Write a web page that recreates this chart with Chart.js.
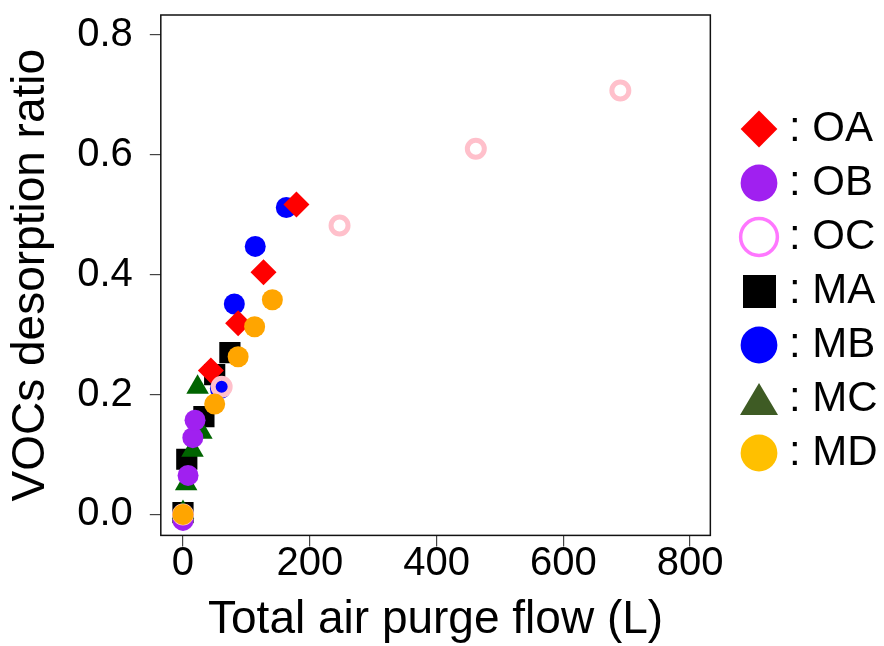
<!DOCTYPE html>
<html>
<head>
<meta charset="utf-8">
<script src="https://cdn.jsdelivr.net/npm/chart.js@4/dist/chart.umd.min.js"></script>
<style>
  html, body { margin: 0; padding: 0; background: #fff; }
  #wrap { width: 884px; height: 646px; }
</style>
</head>
<body>
<div id="wrap"><canvas id="myChart" width="884" height="646"></canvas></div>
<script>
// series: [total air purge flow (L), VOCs desorption ratio]
const seriesNames = ['OA', 'OB', 'OC', 'MA', 'MB', 'MC', 'MD'];
const oaData = [[44, 0.240], [87, 0.319], [127, 0.404], [179, 0.517]];
const obData = [[0, -0.010], [8, 0.065], [15.5, 0.128], [19, 0.157]];
const ocData = [[0, 0.000], [61, 0.213], [247, 0.482], [462, 0.610], [690, 0.707]];
const maData = [[0, 0.003], [6, 0.092], [33, 0.163], [50, 0.233], [74, 0.270]];
const mbData = [[59, 0.210], [81, 0.351], [114, 0.447], [163, 0.512]];
const mcData = [[0, 0.003], [5, 0.051], [15, 0.107], [29, 0.137], [23, 0.212]];
const mdData = [[0, 0.000], [50, 0.184], [87, 0.263], [113, 0.313], [141, 0.358]];
const xTicks = [0, 200, 400, 600, 800];
const yTicks = [0.0, 0.2, 0.4, 0.6, 0.8];

const FONT = "'Liberation Sans', Arial, sans-serif";

function pts(arr) {
    return arr.map(function(p) { return {x: p[0], y: p[1]}; });
}

// bigger legend symbols for square and triangle
function squareIcon(size, color) {
    const c = document.createElement('canvas');
    c.width = size; c.height = size;
    const g = c.getContext('2d');
    g.fillStyle = color;
    g.fillRect(0, 0, size, size);
    return c;
}
function triangleIcon(w, h, color) {
    const c = document.createElement('canvas');
    c.width = w; c.height = h;
    const g = c.getContext('2d');
    g.fillStyle = color;
    g.beginPath();
    g.moveTo(w / 2, 0);
    g.lineTo(w, h);
    g.lineTo(0, h);
    g.closePath();
    g.fill();
    return c;
}

// draw order: lower "order" ends up on top
const datasets = [
    {label: 'OA', data: pts(oaData), pointStyle: 'rectRot', pointRadius: 13,
     backgroundColor: '#FF0000', borderColor: '#FF0000', borderWidth: 0, order: 2,
     legendFill: '#FF0000', legendStroke: '#FF0000'},
    {label: 'OB', data: pts(obData), pointStyle: 'circle', pointRadius: 10.5,
     backgroundColor: '#A020F0', borderColor: '#A020F0', borderWidth: 0, order: 4,
     legendFill: '#A020F0', legendStroke: '#A020F0'},
    {label: 'OC', data: pts(ocData), pointStyle: 'circle', pointRadius: 8.5,
     backgroundColor: 'rgba(0,0,0,0)', borderColor: '#FFC0CB', borderWidth: 5, order: 1,
     legendFill: 'rgba(0,0,0,0)', legendStroke: '#FF77FF'},
    {label: 'MA', data: pts(maData), pointStyle: 'rect', pointRadius: 15,
     backgroundColor: '#000000', borderColor: '#000000', borderWidth: 0, order: 6,
     legendFill: '#000000', legendStroke: '#000000', legendIcon: squareIcon(33, '#000000')},
    {label: 'MB', data: pts(mbData), pointStyle: 'circle', pointRadius: 10.5,
     backgroundColor: '#0000FF', borderColor: '#0000FF', borderWidth: 0, order: 3,
     legendFill: '#0000FF', legendStroke: '#0000FF'},
    {label: 'MC', data: pts(mcData), pointStyle: 'triangle', pointRadius: 13,
     backgroundColor: '#006400', borderColor: '#006400', borderWidth: 0, order: 5,
     legendFill: '#3E5B24', legendStroke: '#3E5B24', legendIcon: triangleIcon(38, 32, '#3E5B24')},
    {label: 'MD', data: pts(mdData), pointStyle: 'circle', pointRadius: 10.5,
     backgroundColor: '#FFA500', borderColor: '#FFA500', borderWidth: 0, order: 0,
     legendFill: '#FFC000', legendStroke: '#FFC000'}
];

const frame = {
    id: 'frame',
    afterLayout(chart) {
        // park the legend where the original has it
        const lg = chart.legend;
        lg.left = 738; lg.right = 884;
        lg.top = 96; lg.bottom = 646;
    },
    beforeDatasetsDraw(chart) {
        const a = chart.chartArea, ctx = chart.ctx;
        ctx.save();
        ctx.strokeStyle = '#111';
        ctx.lineWidth = 1.5;
        ctx.strokeRect(a.left, a.top, a.right - a.left, a.bottom - a.top);
        ctx.restore();
    }
};

const config = {
    type: 'scatter',
    data: {datasets: datasets},
    options: {
        responsive: false,
        animation: false,
        layout: {padding: {left: 4, right: 24, top: 14, bottom: 0}},
        plugins: {
            tooltip: {enabled: false},
            legend: {
                position: 'right',
                align: 'start',
                labels: {
                    usePointStyle: true,
                    boxWidth: 18,
                    boxHeight: 26,
                    padding: 12,
                    color: '#000',
                    font: {family: FONT, size: 42},
                    generateLabels: function(chart) {
                        return chart.data.datasets.map(function(ds, i) {
                            return {
                                text: ': ' + seriesNames[i],
                                fillStyle: ds.legendFill,
                                strokeStyle: ds.legendStroke,
                                lineWidth: ds.label === 'OC' ? 3.5 : 0,
                                pointStyle: ds.legendIcon || ds.pointStyle,
                                fontColor: '#000',
                                datasetIndex: i,
                                hidden: false
                            };
                        });
                    }
                }
            }
        },
        scales: {
            x: {
                type: 'linear',
                min: -35,
                max: 832,
                afterBuildTicks: function(s) { s.ticks = xTicks.map(function(v) { return {value: v}; }); },
                afterFit: function(s) { s.paddingLeft = 0; s.paddingRight = 0; },
                ticks: {color: '#000', font: {family: FONT, size: 40, lineHeight: 1.2}, padding: -6,
                        callback: function(v) { return String(v); }},
                grid: {drawOnChartArea: false, drawTicks: true, tickLength: 11, tickColor: '#444', lineWidth: 1.2},
                border: {display: false},
                title: {display: true, text: 'Total air purge flow (L)', color: '#000',
                        font: {family: FONT, size: 46, lineHeight: 1.1}, padding: {top: 13, bottom: 0}}
            },
            y: {
                type: 'linear',
                min: -0.035,
                max: 0.833,
                afterBuildTicks: function(s) { s.ticks = yTicks.map(function(v) { return {value: v}; }); },
                afterFit: function(s) { s.paddingTop = 0; s.paddingBottom = 0; },
                ticks: {color: '#000', font: {family: FONT, size: 40}, padding: 17,
                        callback: function(v) { return Number(v).toFixed(1); }},
                grid: {drawOnChartArea: false, drawTicks: true, tickLength: 11, tickColor: '#444', lineWidth: 1.2},
                border: {display: false},
                title: {display: true, text: 'VOCs desorption ratio', color: '#000',
                        font: {family: FONT, size: 46}, padding: {top: 0, bottom: 1}}
            }
        }
    },
    plugins: [frame]
};

const myChart = new Chart(document.getElementById('myChart'), config);
</script>
</body>
</html>
